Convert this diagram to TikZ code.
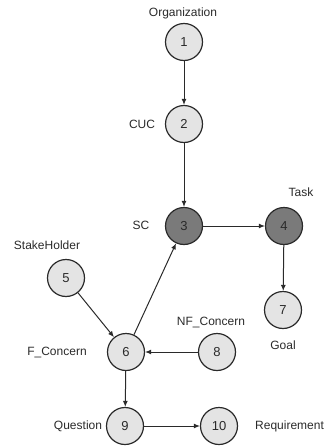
\documentclass[tikz,border=0pt]{standalone}
\usepackage{fontspec}
\setmainfont{Liberation Sans}
\usetikzlibrary{arrows.meta}
\definecolor{lightn}{HTML}{E4E4E4}
\definecolor{darkn}{HTML}{7A7A7A}
\definecolor{edgec}{HTML}{2A2A2A}
\begin{document}
\begin{tikzpicture}[x=1pt,y=-1pt,
  every node/.style={font=\fontsize{12}{14}\selectfont, text=edgec},
  cnode/.style={circle, draw=edgec, line width=1.2pt, minimum size=37pt, inner sep=0pt, fill=lightn, font=\fontsize{13}{15}\selectfont},
  dnode/.style={cnode, fill=darkn},
  lbl/.style={inner sep=0pt},
  conn/.style={draw=edgec, line width=1pt, -{Latex[length=6pt,width=5pt]}}]
\useasboundingbox (0,0) rectangle (324,447);
\node[cnode] (n1) at (184,42) {1};
\node[cnode] (n2) at (184,124) {2};
\node[dnode] (n3) at (184,226) {3};
\node[dnode] (n4) at (284,226) {4};
\node[cnode] (n5) at (66,278) {5};
\node[cnode] (n6) at (126,352) {6};
\node[cnode] (n7) at (283,310) {7};
\node[cnode] (n8) at (217,352) {8};
\node[cnode] (n9) at (125,426) {9};
\node[cnode] (n10) at (219,426) {10};
\node[lbl] (l1) at (183,13) {Organization};
\node[lbl] (l2) at (142,124) {CUC};
\node[lbl] (l3) at (141,225) {SC};
\node[lbl] (l4) at (301,192) {Task};
\node[lbl] (l5) at (47,245) {StakeHolder};
\node[lbl] (l7) at (283,345) {Goal};
\node[lbl] (l8) at (211,322) {NF\_Concern};
\node[lbl] (l6) at (57,352) {F\_Concern};
\node[lbl] (l9) at (78,426) {Question};
\node[lbl,anchor=west] (l10) at (255,426) {Requirement};
\draw[conn] (n1) -- (n2);
\draw[conn] (n2) -- (n3);
\draw[conn] (n3) -- (n4);
\draw[conn] (n4) -- (n7);
\draw[conn] (n5) -- (n6);
\draw[conn] (n6) -- (n3);
\draw[conn] (n8) -- (n6);
\draw[conn] (n6) -- (n9);
\draw[conn] (n9) -- (n10);
\end{tikzpicture}
\end{document}
